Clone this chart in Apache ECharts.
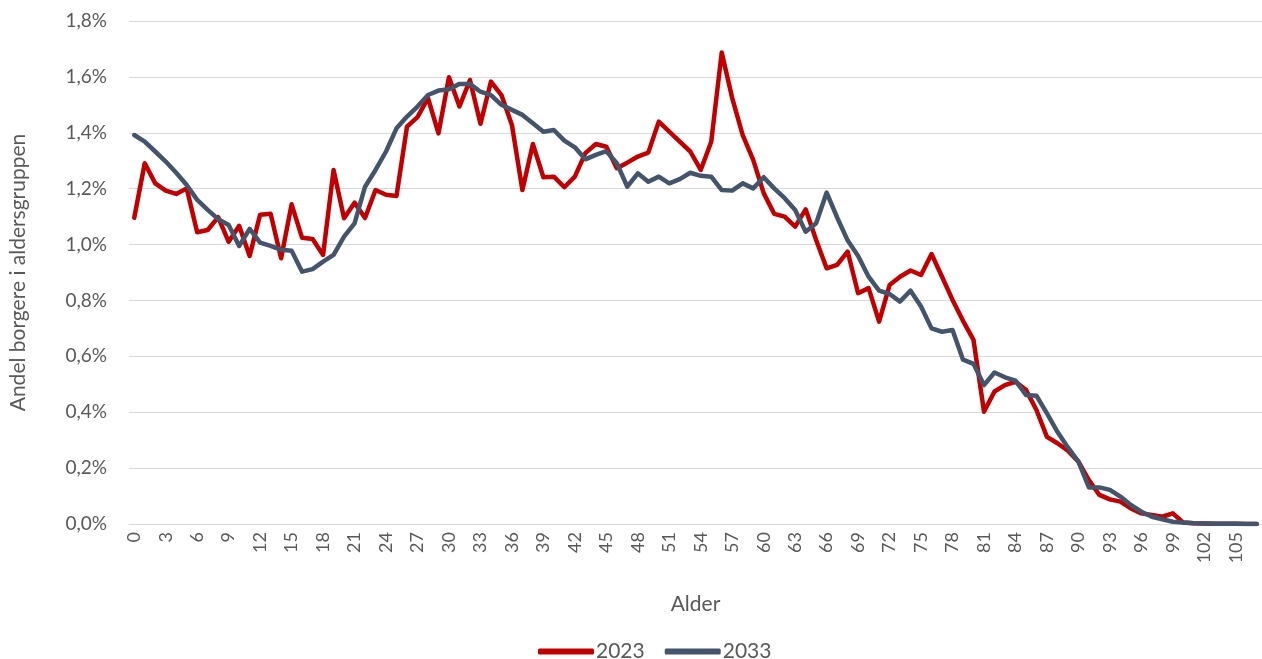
<!DOCTYPE html>
<html>
<head>
<meta charset="utf-8">
<script src="https://cdn.jsdelivr.net/npm/echarts@6/dist/echarts.min.js"></script>
<style>
html,body{margin:0;padding:0;background:#fff;}
#chart{width:1262px;height:659px;}
</style>
</head>
<body>
<div id="chart"></div>
<script>
// Ages 0..107
const ages = Array.from({length:108}, (_, i) => String(i));

// Share of citizens in each age group (percent)
const s2023 = [
1.096,1.291,1.219,1.193,1.181,1.201,1.044,1.052,1.098,1.010,
1.067,0.959,1.107,1.110,0.951,1.144,1.024,1.020,0.963,1.267,
1.094,1.150,1.095,1.195,1.178,1.174,1.422,1.456,1.524,1.398,
1.599,1.494,1.589,1.432,1.583,1.535,1.428,1.195,1.360,1.241,
1.243,1.205,1.243,1.327,1.360,1.350,1.273,1.293,1.315,1.329,
1.440,1.404,1.368,1.333,1.267,1.368,1.687,1.524,1.392,1.303,
1.184,1.110,1.100,1.064,1.126,1.016,0.915,0.927,0.975,0.826,
0.844,0.724,0.855,0.885,0.907,0.891,0.966,0.885,0.802,0.727,
0.659,0.402,0.474,0.497,0.509,0.480,0.408,0.312,0.289,0.262,
0.223,0.157,0.104,0.088,0.080,0.056,0.038,0.032,0.026,0.038,
0.005,0.003,0.002,0.001,0.001,0.0005,0.0003,0.0002
];
const s2033 = [
1.392,1.368,1.333,1.297,1.257,1.213,1.160,1.124,1.091,1.070,
0.995,1.056,1.007,0.995,0.981,0.978,0.903,0.912,0.939,0.963,
1.028,1.076,1.207,1.267,1.333,1.416,1.458,1.494,1.535,1.551,
1.556,1.575,1.575,1.547,1.535,1.500,1.482,1.464,1.434,1.404,
1.410,1.372,1.348,1.305,1.321,1.334,1.291,1.207,1.255,1.225,
1.243,1.219,1.234,1.257,1.246,1.243,1.195,1.193,1.219,1.201,
1.241,1.201,1.166,1.124,1.046,1.076,1.186,1.097,1.015,0.959,
0.885,0.835,0.823,0.796,0.835,0.778,0.700,0.688,0.694,0.588,
0.573,0.497,0.542,0.525,0.513,0.462,0.459,0.396,0.330,0.274,
0.223,0.131,0.131,0.122,0.098,0.068,0.044,0.026,0.017,0.008,
0.005,0.003,0.002,0.001,0.001,0.0005,0.0003,0.0002
];

const seriesNames = ['2023','2033'];
const xTitle = 'Alder';
const yTitle = 'Andel borgere i aldersgruppen';

const FONT = 'Lato, "Open Sans", sans-serif';
const TXT = '#595959';

const chart = echarts.init(document.getElementById('chart'), null, {renderer:'canvas'});
chart.setOption({
  animation:false,
  backgroundColor:'#ffffff',
  grid:{left:129, right:0, top:21, bottom:135, containLabel:false, outerBoundsMode:'none'},
  legend:{
    data:seriesNames,
    top:636, left:533,
    icon:'roundRect',
    itemWidth:56, itemHeight:6, itemGap:20,
    textStyle:{color:TXT, fontSize:21, fontFamily:FONT, padding:[0,0,0,-3]}
  },
  xAxis:{
    type:'category',
    data:ages,
    boundaryGap:true,
    name:xTitle,
    nameLocation:'middle',
    nameGap:70,
    nameTextStyle:{color:TXT, fontSize:21, fontFamily:FONT},
    axisLine:{show:true, lineStyle:{color:'#D9D9D9', width:1}},
    axisTick:{show:false},
    axisLabel:{interval:2, rotate:90, color:TXT, fontSize:18, fontFamily:FONT, margin:8},
    splitLine:{show:false}
  },
  yAxis:{
    type:'value',
    min:0, max:1.8, interval:0.2,
    name:yTitle,
    nameLocation:'middle',
    nameGap:100,
    nameTextStyle:{color:TXT, fontSize:21, fontFamily:FONT},
    axisLine:{show:false},
    axisTick:{show:false},
    axisLabel:{
      color:TXT, fontSize:19, fontFamily:FONT, margin:22,
      formatter:v => v.toFixed(1).replace('.', ',') + '%'
    },
    splitLine:{lineStyle:{color:'#D9D9D9', width:1}}
  },
  series:[
    {name:seriesNames[0], type:'line', data:s2023, showSymbol:false, symbol:'none',
     lineStyle:{color:'#C00000', width:4.5, cap:'round', join:'round'}, itemStyle:{color:'#C00000'}},
    {name:seriesNames[1], type:'line', data:s2033, showSymbol:false, symbol:'none',
     lineStyle:{color:'#44546A', width:4.5, cap:'round', join:'round'}, itemStyle:{color:'#44546A'}}
  ]
});
</script>
</body>
</html>
